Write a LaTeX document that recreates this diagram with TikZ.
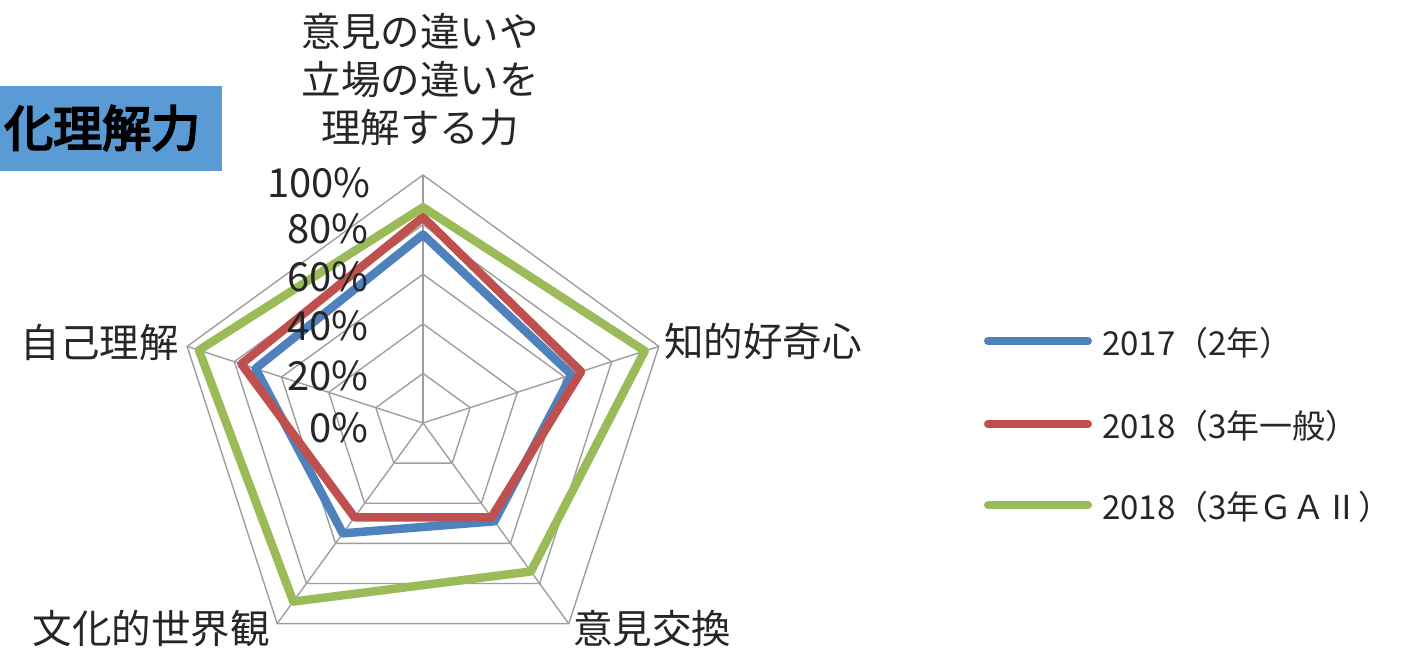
\documentclass[tikz,border=0pt]{standalone}
\usepackage{fontspec}
\setmainfont{Noto Sans CJK JP}
\newfontfamily\cjkbold[FakeBold=4]{Noto Sans CJK JP}
\tikzset{
  grid/.style={draw=black!38, line width=1.4pt},
  series/.style={line width=8.5pt, line join=round},
  axlabel/.style={inner sep=0pt, font=\fontsize{39.5}{48}\selectfont, text=black!85},
  pct/.style={inner sep=0pt, anchor=east, font=\fontsize{40}{48}\selectfont, text=black!85},
  legline/.style={line width=8pt, line cap=round},
  legtext/.style={inner sep=0pt, anchor=west, font=\fontsize{33}{40}\selectfont, text=black!85},
}
\definecolor{sblue}{HTML}{4F81BD}
\definecolor{sred}{HTML}{C0504D}
\definecolor{sgreen}{HTML}{9BBB59}
\definecolor{titlebg}{HTML}{5B9BD5}
\begin{document}
\begin{tikzpicture}[x=1pt,y=1pt]
\useasboundingbox (0,0) rectangle (1408,652);
% title box
\fill[titlebg] (0,652-86) rectangle (222,652-171);
\node[anchor=west, inner sep=0pt, font=\cjkbold\fontsize{49}{52}\selectfont] (title) at (4,652-128) {化理解力};
% radar
\begin{scope}[shift={(423,652-423)}]
  \coordinate (C) at (0,0);
  \foreach \r in {49.6,99.2,148.8,198.4,248} {
    \draw[grid] (90:\r) -- (18:\r) -- (-54:\r) -- (-126:\r) -- (162:\r) -- cycle;
  }
  \foreach \a in {90,18,-54,-126,162} {
    \draw[grid] (C) -- (\a:248);
  }
  \def\S{2.48}
  \draw[series, sblue] (90:76*\S) -- (18:63*\S) -- (-54:49*\S) -- (-126:55*\S) -- (162:71*\S) -- cycle;
  \draw[series, sred] (90:83*\S) -- (18:67*\S) -- (-54:47*\S) -- (-126:47*\S) -- (162:77*\S) -- cycle;
  \draw[series, sgreen] (90:87*\S) -- (18:94*\S) -- (-54:74*\S) -- (-126:89*\S) -- (162:95*\S) -- cycle;
\end{scope}
% percent labels
\node[pct] (p100) at (371,652-183) {100\%};
\node[pct] (p80) at (369,652-229) {80\%};
\node[pct] (p60) at (369,652-277) {60\%};
\node[pct] (p40) at (369,652-326) {40\%};
\node[pct] (p20) at (369,652-376) {20\%};
\node[pct] (p0) at (369,652-428) {0\%};
% axis labels
\node[axlabel, align=center] (top) at (420,652-80) {意見の違いや\\立場の違いを\\理解する力};
\node[axlabel, anchor=west] (right) at (664,652-341) {知的好奇心};
\node[axlabel, anchor=east] (left) at (179,652-342) {自己理解};
\node[axlabel, anchor=east] (bl) at (270,652-629) {文化的世界観};
\node[axlabel, anchor=west] (br) at (573,652-629) {意見交換};
% legend
\coordinate (l1a) at (988,652-341); \coordinate (l1b) at (1088,652-341);
\coordinate (l2a) at (988,652-424); \coordinate (l2b) at (1088,652-424);
\coordinate (l3a) at (988,652-505); \coordinate (l3b) at (1088,652-505);
\draw[legline, sblue] (l1a) -- (l1b);
\draw[legline, sred] (l2a) -- (l2b);
\draw[legline, sgreen] (l3a) -- (l3b);
\node[legtext] (t1) at (1102,652-343) {2017（2年）};
\node[legtext] (t2) at (1102,652-426) {2018（3年一般）};
\node[legtext] (t3) at (1102,652-507) {2018（3年ＧＡⅡ）};
\end{tikzpicture}
\end{document}
